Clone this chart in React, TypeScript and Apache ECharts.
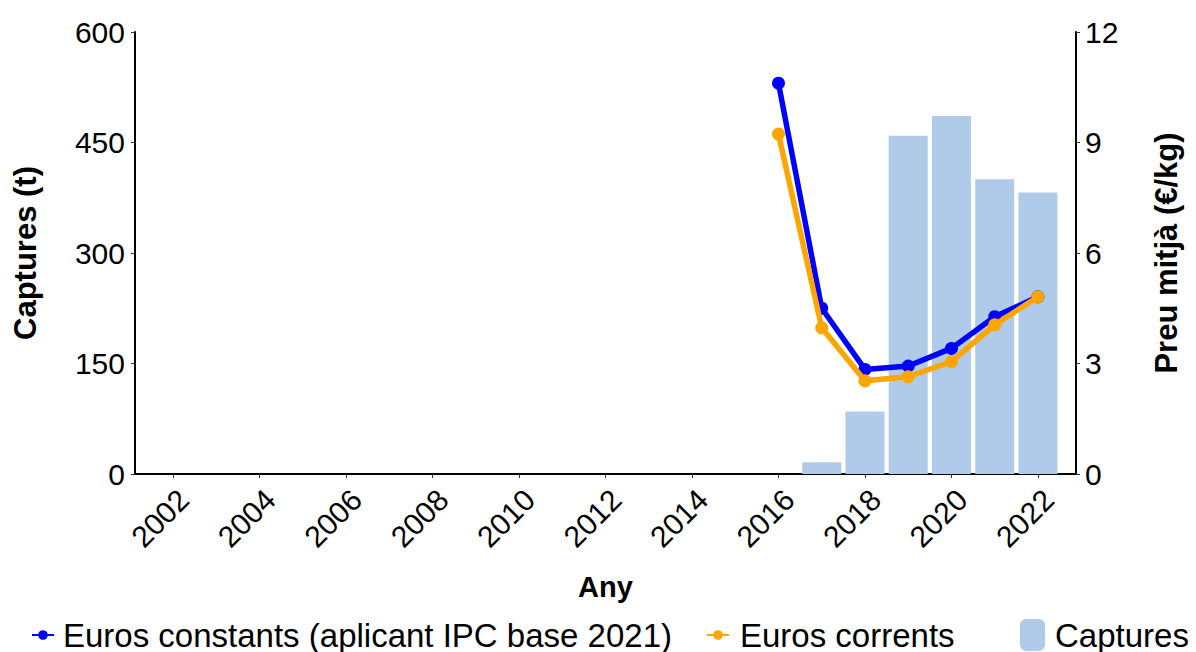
import React, { useEffect, useRef } from "react";
import * as echarts from "echarts";

const yearTicks = [2002, 2004, 2006, 2008, 2010, 2012, 2014, 2016, 2018, 2020, 2022];
const lineYears = [2016, 2017, 2018, 2019, 2020, 2021, 2022];
const constantPrice = [10.61, 4.5, 2.84, 2.93, 3.41, 4.27, 4.81];
const currentPrice = [9.23, 3.97, 2.53, 2.64, 3.05, 4.05, 4.81];
const barYears = [2017, 2018, 2019, 2020, 2021, 2022];
const catches = [16, 85, 459, 486, 400, 382];

const FONT = "Liberation Sans, Arial, sans-serif";

export default function App() {
  const ref = useRef<HTMLDivElement>(null);
  useEffect(() => {
    if (!ref.current) return;
    const chart = echarts.init(ref.current, null, { renderer: "svg" });
    const axisLine = { show: true, lineStyle: { color: "#000", width: 2 } };
    const axisTick = { show: true, length: 4, lineStyle: { color: "#333", width: 1 } };
    const axisLabel = { color: "#000", fontSize: 30, fontFamily: FONT };
    const nameStyle = { color: "#000", fontSize: 31, fontWeight: "bold", fontFamily: FONT };
    const legendText = { color: "#000", fontSize: 33, lineHeight: 34, fontFamily: FONT };
    chart.setOption({
      animation: false,
      backgroundColor: "#fff",
      grid: { left: 135, right: 120, top: 32, bottom: 178, containLabel: false },
      legend: [
        {
          data: ["Euros constants (aplicant IPC base 2021)"],
          left: 31,
          top: 618,
          padding: 0,
          itemWidth: 22,
          itemHeight: 12,
          itemGap: 10,
          textStyle: { ...legendText, padding: [0, 0, 0, 4] },
        },
        {
          data: ["Euros corrents"],
          left: 706,
          top: 618,
          padding: 0,
          itemWidth: 22,
          itemHeight: 12,
          textStyle: { ...legendText, padding: [0, 0, 0, 6] },
        },
        {
          data: ["Captures"],
          left: 1020,
          top: 618,
          padding: 0,
          itemWidth: 25,
          itemHeight: 32,
          textStyle: { ...legendText, padding: [0, 0, 0, 5] },
        },
      ],
      xAxis: {
        type: "value",
        min: 2001.12,
        max: 2022.88,
        name: "Any",
        nameLocation: "middle",
        nameGap: 98,
        nameTextStyle: { ...nameStyle, fontSize: 29 },
        axisLine,
        axisTick: { ...axisTick, customValues: yearTicks },
        axisLabel: {
          ...axisLabel,
          rotate: 45,
          margin: 10,
          verticalAlign: "top",
          customValues: yearTicks,
          formatter: (v: number) => String(v),
        },
        splitLine: { show: false },
      },
      yAxis: [
        {
          type: "value",
          min: 0,
          max: 600,
          interval: 150,
          name: "Captures (t)",
          nameLocation: "middle",
          nameRotate: 90,
          nameGap: 94,
          nameTextStyle: nameStyle,
          axisLine,
          axisTick,
          axisLabel: { ...axisLabel, margin: 10 },
          splitLine: { show: false },
        },
        {
          type: "value",
          min: 0,
          max: 12,
          interval: 3,
          position: "right",
          name: "Preu mitjà (€/kg)",
          nameLocation: "middle",
          nameRotate: 90,
          nameGap: 75,
          nameTextStyle: nameStyle,
          axisLine,
          axisTick,
          axisLabel: { ...axisLabel, margin: 9 },
          splitLine: { show: false },
        },
      ],
      series: [
        {
          name: "Captures",
          type: "bar",
          yAxisIndex: 0,
          barWidth: 39,
          itemStyle: { color: "#B0CBE9" },
          data: barYears.map((y, i) => [y, catches[i]]),
          z: 1,
        },
        {
          name: "Euros constants (aplicant IPC base 2021)",
          type: "line",
          yAxisIndex: 1,
          symbol: "circle",
          symbolSize: 13,
          lineStyle: { color: "#0000FF", width: 5.5 },
          itemStyle: { color: "#0000FF" },
          data: lineYears.map((y, i) => [y, constantPrice[i]]),
          z: 3,
        },
        {
          name: "Euros corrents",
          type: "line",
          yAxisIndex: 1,
          symbol: "circle",
          symbolSize: 13,
          lineStyle: { color: "#FFA500", width: 5.5 },
          itemStyle: { color: "#FFA500" },
          data: lineYears.map((y, i) => [y, currentPrice[i]]),
          z: 4,
        },
      ],
    });
    return () => chart.dispose();
  }, []);
  return (
    <div
      ref={ref}
      style={{ position: "fixed", left: 0, top: 0, width: 1196, height: 652 }}
    />
  );
}
